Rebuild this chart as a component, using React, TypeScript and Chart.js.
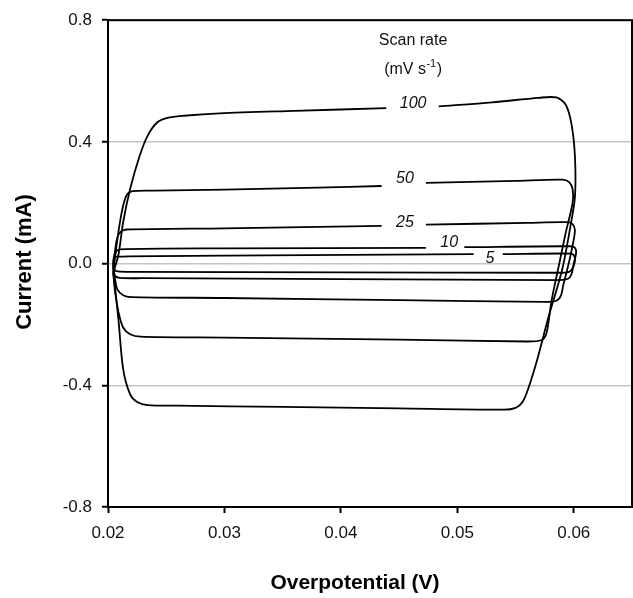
import React, { useEffect, useRef } from 'react';
import { Chart, registerables } from 'chart.js';

Chart.register(...registerables);

type Pt = [number, number | null];

// Axis ticks
const xTicks = [0.02, 0.03, 0.04, 0.05, 0.06];
const yTicks = [-0.8, -0.4, 0.0, 0.4, 0.8];

// Cyclic voltammograms (Overpotential V, Current mA), one loop per scan rate
const cv100: Pt[] = [
  [0.02045, -0.03], [0.0209, 0.03], [0.0213, 0.136], [0.0219, 0.245], [0.0227, 0.352],
  [0.0234, 0.42], [0.0242, 0.463], [0.0251, 0.479], [0.0265, 0.486], [0.0296, 0.494],
  [0.0360, 0.502], [0.0439, 0.511], [0.0461, null], [0.0484, 0.517], [0.0530, 0.530],
  [0.0570, 0.545], [0.0585, 0.546], [0.0593, 0.523], [0.0598, 0.459], [0.0601, 0.352],
  [0.0601, 0.22], [0.0597, 0.12], [0.0590, -0.02], [0.0578, -0.18], [0.0569, -0.31],
  [0.0561, -0.41], [0.0556, -0.455], [0.0550, -0.474], [0.0540, -0.480], [0.0450, -0.476],
  [0.0350, -0.471], [0.0260, -0.467], [0.0234, -0.465], [0.0225, -0.455], [0.0219, -0.43],
  [0.0213, -0.346], [0.0209, -0.185], [0.0206, -0.077], [0.02045, -0.03],
];
const cv50: Pt[] = [
  [0.02045, -0.03], [0.0207, 0.05], [0.0210, 0.13], [0.0213, 0.19], [0.0216, 0.225],
  [0.0221, 0.238], [0.0240, 0.240], [0.0300, 0.243], [0.0380, 0.250], [0.0435, 0.255],
  [0.0455, null], [0.0473, 0.265], [0.0550, 0.272], [0.0590, 0.276], [0.0596, 0.268],
  [0.0599, 0.245], [0.0599, 0.20], [0.0593, 0.10], [0.0587, -0.01], [0.0581, -0.12],
  [0.0578, -0.20], [0.0576, -0.235], [0.0572, -0.252], [0.0560, -0.256], [0.0450, -0.250],
  [0.0300, -0.243], [0.0228, -0.240], [0.0219, -0.232], [0.0213, -0.21], [0.0209, -0.16],
  [0.0206, -0.09], [0.02045, -0.03],
];
const cv25: Pt[] = [
  [0.02045, -0.02], [0.0206, 0.04], [0.0208, 0.085], [0.0211, 0.105], [0.0216, 0.112],
  [0.0300, 0.116], [0.0435, 0.124], [0.0455, null], [0.0473, 0.128], [0.0560, 0.134],
  [0.0594, 0.136], [0.0599, 0.130], [0.0601, 0.11], [0.0599, 0.06], [0.0595, -0.01],
  [0.0591, -0.07], [0.0589, -0.105], [0.0585, -0.122], [0.0575, -0.126], [0.0450, -0.120],
  [0.0300, -0.113], [0.0220, -0.110], [0.0213, -0.104], [0.0208, -0.085], [0.0206, -0.05],
  [0.02045, -0.02],
];
const cv10: Pt[] = [
  [0.02045, -0.01], [0.0205, 0.02], [0.0207, 0.040], [0.0210, 0.047], [0.0300, 0.050],
  [0.0473, 0.052], [0.0490, null], [0.0506, 0.054], [0.0597, 0.057], [0.0601, 0.052],
  [0.0602, 0.035], [0.0600, 0.0], [0.0598, -0.035], [0.0595, -0.050], [0.0588, -0.054],
  [0.0400, -0.051], [0.0230, -0.048], [0.0210, -0.047], [0.0206, -0.04], [0.02045, -0.01],
];
const cv5: Pt[] = [
  [0.02045, 0.0], [0.0205, 0.015], [0.0207, 0.023], [0.0300, 0.026], [0.0514, 0.031],
  [0.0526, null], [0.0539, 0.031], [0.0597, 0.033], [0.0600, 0.028], [0.0601, 0.01],
  [0.0599, -0.015], [0.0596, -0.027], [0.0588, -0.030], [0.0400, -0.029], [0.0220, -0.027],
  [0.0207, -0.025], [0.0205, -0.015], [0.02045, 0.0],
];

// Scan-rate labels written on the loops (data coordinates)
const scanRates = ['100', '50', '25', '10', '5'];
const rateLabelX = [0.0462, 0.0455, 0.0455, 0.0493, 0.0528];
const rateLabelY = [0.525, 0.279, 0.134, 0.069, 0.018];

const legendTitle = 'Scan rate';
const legendUnit = ['(mV s', '-1', ')'];
const legendX = 0.0462;
const legendY = [0.732, 0.638];

const xTitle = 'Overpotential (V)';
const yTitle = 'Current (mA)';

const FONT = '"Liberation Sans", Arial, Helvetica, sans-serif';

export default function App() {
  const ref = useRef<HTMLCanvasElement>(null);

  useEffect(() => {
    if (!ref.current) return;
    const toXY = (arr: Pt[]) => arr.map(([x, y]) => ({ x, y }));
    const series = [cv100, cv50, cv25, cv10, cv5];

    const textPlugin = {
      id: 'textPlugin',
      afterDraw(chart: any) {
        const { ctx, chartArea: a, scales } = chart;
        const xs = scales.x;
        const ys = scales.y;
        ctx.save();
        // plot frame
        ctx.strokeStyle = '#000';
        ctx.lineWidth = 2;
        ctx.strokeRect(a.left, a.top, a.right - a.left, a.bottom - a.top);

        // scan-rate labels
        ctx.fillStyle = '#111';
        ctx.textAlign = 'center';
        ctx.textBaseline = 'middle';
        ctx.font = `italic 16px ${FONT}`;
        scanRates.forEach((t, i) => {
          ctx.fillText(t, xs.getPixelForValue(rateLabelX[i]), ys.getPixelForValue(rateLabelY[i]));
        });

        // legend title
        ctx.font = `16px ${FONT}`;
        const lx = xs.getPixelForValue(legendX);
        ctx.fillText(legendTitle, lx, ys.getPixelForValue(legendY[0]));
        const ly = ys.getPixelForValue(legendY[1]);
        ctx.font = `16px ${FONT}`;
        const w1 = ctx.measureText(legendUnit[0]).width;
        const w3 = ctx.measureText(legendUnit[2]).width;
        ctx.font = `11px ${FONT}`;
        const w2 = ctx.measureText(legendUnit[1]).width;
        let sx = lx - (w1 + w2 + w3 + 1) / 2;
        ctx.textAlign = 'left';
        ctx.font = `16px ${FONT}`;
        ctx.fillText(legendUnit[0], sx, ly);
        sx += w1 + 0.5;
        ctx.font = `11px ${FONT}`;
        ctx.fillText(legendUnit[1], sx, ly - 6);
        sx += w2 + 0.5;
        ctx.font = `16px ${FONT}`;
        ctx.fillText(legendUnit[2], sx, ly);

        // axis titles
        ctx.fillStyle = '#000';
        ctx.textAlign = 'center';
        ctx.font = `bold 21px ${FONT}`;
        ctx.fillText(xTitle, 355, 583);
        ctx.translate(25, 262);
        ctx.rotate(-Math.PI / 2);
        ctx.font = `bold 22px ${FONT}`;
        ctx.fillText(yTitle, 0, 0);
        ctx.restore();
      },
    };

    const chart = new Chart(ref.current, {
      type: 'scatter',
      data: {
        datasets: series.map((s, i) => ({
          label: scanRates[i],
          data: toXY(s),
          showLine: true,
          spanGaps: false,
          borderColor: '#000',
          borderWidth: 1.8,
          pointRadius: 0,
          tension: 0.3,
          fill: false,
        })),
      },
      options: {
        responsive: false,
        animation: false,
        layout: { padding: { top: 12, right: 1, left: 0, bottom: 0 } },
        plugins: {
          legend: { display: false },
          tooltip: { enabled: false },
        },
        scales: {
          x: {
            type: 'linear',
            min: 0.02,
            max: 0.065,
            afterBuildTicks: (scale: any) => {
              scale.ticks = xTicks.map((v) => ({ value: v }));
            },
            afterFit: (scale: any) => {
              scale.height = 91;
            },
            ticks: {
              color: '#111',
              font: { size: 17, family: FONT },
              padding: 10,
              maxRotation: 0,
              autoSkip: false,
              callback: (v: any) => Number(v).toFixed(2),
            },
            grid: {
              drawOnChartArea: false,
              drawTicks: true,
              tickLength: 6,
              tickColor: '#000',
              tickWidth: 2,
            },
            border: { display: true, color: '#000', width: 2 },
          },
          y: {
            type: 'linear',
            min: -0.8,
            max: 0.8,
            afterBuildTicks: (scale: any) => {
              scale.ticks = yTicks.map((v) => ({ value: v }));
            },
            afterFit: (scale: any) => {
              scale.width = 108;
            },
            ticks: {
              color: '#111',
              font: { size: 17, family: FONT },
              padding: 10,
              autoSkip: false,
              callback: (v: any) => (Math.abs(Number(v)) < 1e-9 ? '0.0' : Number(v).toFixed(1)),
            },
            grid: {
              drawOnChartArea: true,
              drawTicks: true,
              tickLength: 6,
              color: '#c4c4c4',
              lineWidth: 1.5,
              tickColor: '#000',
              tickWidth: 2,
            },
            border: { display: true, color: '#000', width: 2 },
          },
        },
      },
      plugins: [textPlugin],
    });

    return () => chart.destroy();
  }, []);

  return (
    <div style={{ position: 'absolute', left: 0, top: 0, width: 633, height: 598, background: '#fff' }}>
      <canvas ref={ref} width={633} height={598} style={{ display: 'block' }} />
    </div>
  );
}
